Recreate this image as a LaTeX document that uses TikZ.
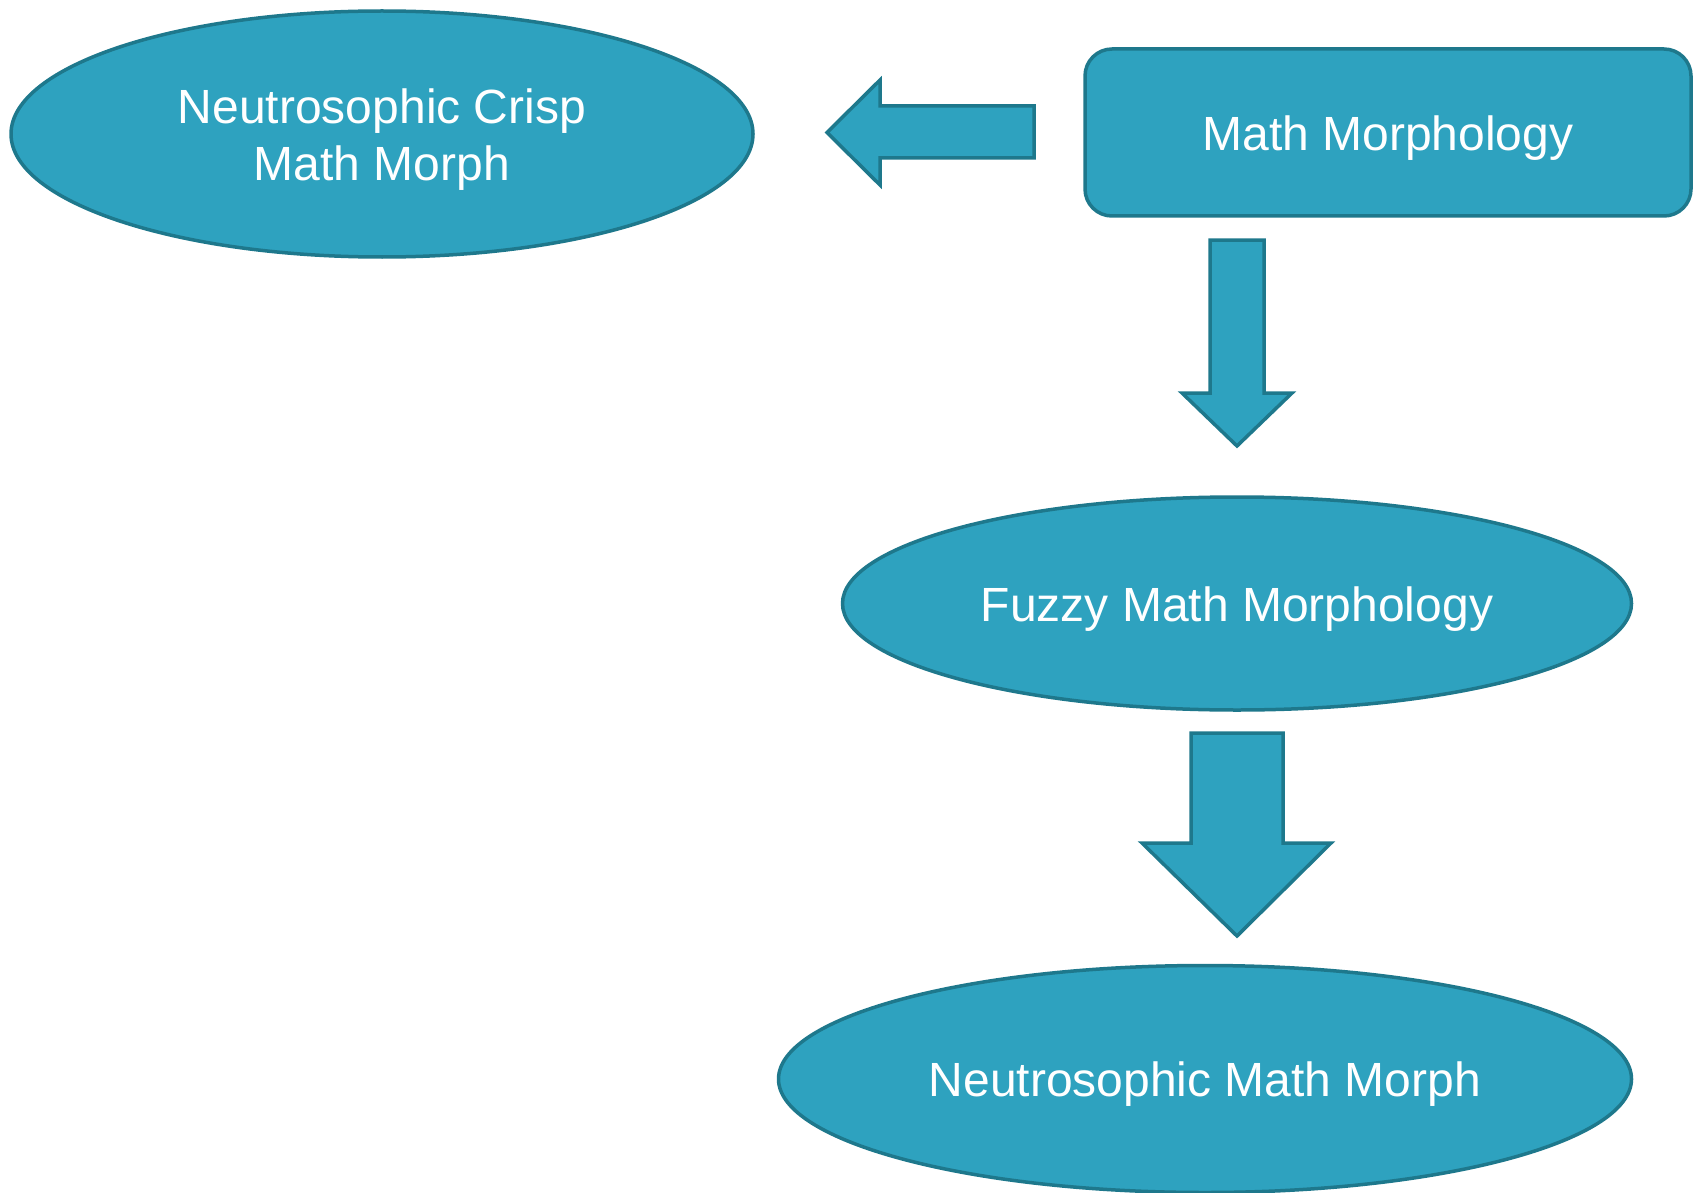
\documentclass[tikz,border=0pt]{standalone}
\usepackage{fontspec}
\setmainfont{Liberation Sans}
\usetikzlibrary{shapes.geometric}
\definecolor{fillc}{RGB}{46,162,191}
\definecolor{edgec}{RGB}{30,120,140}
\newcommand{\dn}{\rule{0pt}{45pt}}
\begin{document}
\begin{tikzpicture}[x=1pt,y=-1pt,
  every node/.style={text=white,font=\fontsize{48}{57}\selectfont},
  shapeline/.style={draw=edgec,fill=fillc,line width=3.5pt,line join=round},
  ell/.style={shapeline,ellipse,inner sep=0pt,align=center},
  boxnode/.style={shapeline,rectangle,rounded corners=27pt,inner sep=0pt},
  blockarrow/.style={shapeline,line join=miter}]
\useasboundingbox (0,0) rectangle (1702,1193);
% nodes
\node[ell,minimum width=742pt,minimum height=246pt] (crisp) at (382,134) {\dn Neutrosophic Crisp\\Math Morph};
\node[boxnode,minimum width=606pt,minimum height=167pt] (mm) at (1388,132.5) {\dn Math Morphology};
\node[ell,minimum width=789pt,minimum height=213pt] (fuzzy) at (1237,603.5) {\dn Fuzzy Math Morphology};
\node[ell,minimum width=853pt,minimum height=227pt] (neut) at (1205,1079) {\dn Neutrosophic Math Morph};
% block arrows
\draw[blockarrow] (1034,106) -- (880,106) -- (880,80) -- (827,132.5) -- (880,185) -- (880,158) -- (1034,158) -- cycle;
\draw[blockarrow] (1210,240) -- (1264,240) -- (1264,393) -- (1292,393) -- (1237,446) -- (1182,393) -- (1210,393) -- cycle;
\draw[blockarrow] (1191,733) -- (1283,733) -- (1283,843) -- (1331,843) -- (1237,936) -- (1142,843) -- (1191,843) -- cycle;
\end{tikzpicture}
\end{document}
